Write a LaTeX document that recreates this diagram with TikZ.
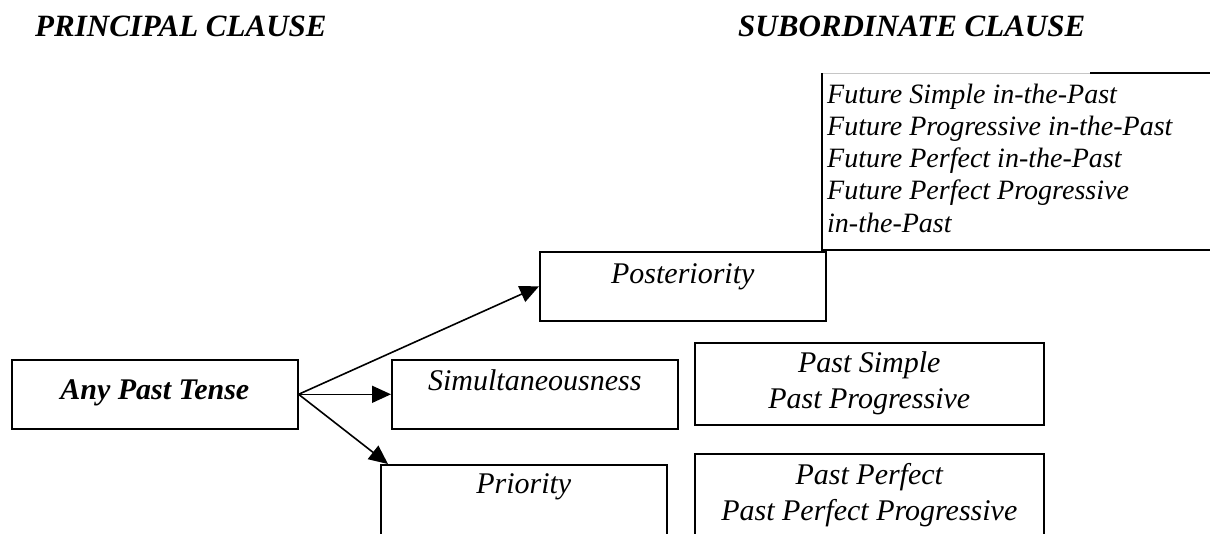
\documentclass[tikz,border=0pt]{standalone}
\usepackage{fontspec}
\setmainfont{Liberation Serif}
\usetikzlibrary{positioning,arrows.meta}

\tikzset{
  tbox/.style={draw, line width=1.6pt, anchor=north west, inner sep=0pt,
    minimum width=286pt, minimum height=69pt},
  wbox/.style={tbox, minimum width=349pt, minimum height=82pt},
  ttext/.style={anchor=base, inner sep=0pt, align=center,
    font=\fontsize{30}{36}\selectfont\itshape},
  thead/.style={anchor=base west, inner sep=0pt,
    font=\fontsize{31}{36}\selectfont\bfseries\itshape},
}

\begin{document}
\begin{tikzpicture}[x=1pt, y=-1pt, >={Triangle[length=19pt,width=17pt]}]
  \useasboundingbox (0,0) rectangle (1210,533);

  \node[thead] (principal) at (35,36) {PRINCIPAL CLAUSE};
  \node[thead] (subordinate) at (738,36) {SUBORDINATE CLAUSE};

  \node[tbox] (any) at (11,359) {};
  \node[tbox] (post) at (539,251) {};
  \node[tbox] (simul) at (391,359) {};
  \node[tbox, minimum height=80pt] (prior) at (380,464) {};
  \node[wbox] (pastsim) at (694,342) {};
  \node[wbox, minimum height=90pt] (pastperf) at (694,453) {};

  \node[ttext, font=\fontsize{30}{36}\selectfont\bfseries\itshape] (anyT)
    at ([yshift=-40pt]any.north) {Any Past Tense};
  \node[ttext] (postT) at ([yshift=-32pt]post.north) {Posteriority};
  \node[ttext] (simulT) at ([yshift=-31pt]simul.north) {Simultaneousness};
  \node[ttext] (priorT) at ([yshift=-29pt]prior.north) {Priority};
  % base of a two-line node is its last line
  \node[ttext] (pastsimT) at ([yshift=-66pt]pastsim.north) {Past Simple\\Past Progressive};
  \node[ttext] (pastperfT) at ([yshift=-67pt]pastperf.north) {Past Perfect\\Past Perfect Progressive};

  % future-in-the-past box, open to the right
  \coordinate (futTL) at (822,73);
  \coordinate (futTM) at (1090,73);
  \coordinate (futTR) at (1210,73);
  \coordinate (futBL) at (822,250);
  \coordinate (futBR) at (1210,250);
  \draw[gray!45, line width=0.8pt] (futTL) -- (futTM);
  \draw[line width=1.6pt] (futTM) -- (futTR);
  \draw[line width=1.6pt] (futTL) -- (futBL) -- (futBR);
  \node[anchor=base west, inner sep=0pt, align=left,
    font=\fontsize{28}{32.2}\selectfont\itshape] (futT) at (827,232)
    {Future Simple in-the-Past\\Future Progressive in-the-Past\\Future Perfect in-the-Past\\Future Perfect Progressive\\in-the-Past};

  \path[->, line width=1.6pt]
    (any.east) edge (post.west)
    (any.east) edge (simul.west)
    (any.east) edge ([xshift=8pt]prior.north west);
\end{tikzpicture}
\end{document}
